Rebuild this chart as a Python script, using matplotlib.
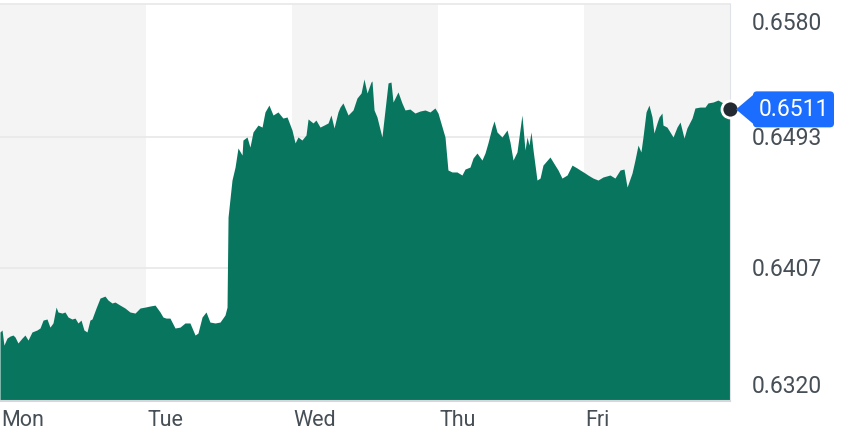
import matplotlib
matplotlib.use("Agg")
import matplotlib.pyplot as plt
from matplotlib.patches import Polygon, FancyBboxPatch

# time in trading days since Monday open, price in USD
days = [
    0.000, 0.014, 0.027, 0.048, 0.068, 0.089, 0.103, 0.123, 0.151, 0.171,
    0.192, 0.219, 0.253, 0.274, 0.295, 0.322, 0.342, 0.363, 0.384, 0.397,
    0.425, 0.445, 0.466, 0.493, 0.514, 0.534, 0.555, 0.575, 0.596, 0.616,
    0.630, 0.658, 0.685, 0.719, 0.740, 0.767, 0.788, 0.822, 0.856, 0.890,
    0.925, 0.959, 0.993, 1.027, 1.062, 1.096, 1.116, 1.137, 1.164, 1.199,
    1.233, 1.267, 1.301, 1.336, 1.356, 1.384, 1.411, 1.438, 1.473, 1.507,
    1.541, 1.555, 1.562, 1.589, 1.610, 1.630, 1.658, 1.664, 1.692, 1.712,
    1.733, 1.767, 1.795, 1.815, 1.842, 1.870, 1.904, 1.938, 1.966, 2.000,
    2.021, 2.041, 2.068, 2.096, 2.110, 2.144, 2.164, 2.192, 2.219, 2.247,
    2.267, 2.288, 2.315, 2.329, 2.349, 2.384, 2.418, 2.445, 2.473, 2.493,
    2.514, 2.541, 2.548, 2.562, 2.582, 2.616, 2.637, 2.658, 2.678, 2.692,
    2.726, 2.753, 2.774, 2.808, 2.842, 2.877, 2.911, 2.945, 2.979, 3.000,
    3.014, 3.048, 3.068, 3.096, 3.130, 3.164, 3.185, 3.219, 3.240, 3.267,
    3.301, 3.322, 3.342, 3.370, 3.384, 3.404, 3.438, 3.473, 3.493, 3.514,
    3.541, 3.575, 3.596, 3.610, 3.623, 3.637, 3.651, 3.678, 3.699, 3.719,
    3.767, 3.801, 3.822, 3.849, 3.884, 3.918, 3.952, 3.973, 4.007, 4.027,
    4.062, 4.096, 4.130, 4.178, 4.212, 4.247, 4.274, 4.295, 4.329, 4.349,
    4.370, 4.390, 4.404, 4.425, 4.445, 4.466, 4.479, 4.500, 4.514, 4.534,
    4.541, 4.568, 4.589, 4.610, 4.637, 4.658, 4.685, 4.705, 4.740, 4.760,
    4.795, 4.829, 4.849, 4.884, 4.918, 4.952, 5.000,
]
prices = [
    0.63652, 0.63665, 0.63566, 0.63612, 0.63625, 0.63632, 0.63619, 0.63580, 0.63612, 0.63632,
    0.63599, 0.63652, 0.63665, 0.63678, 0.63730, 0.63737, 0.63684, 0.63711, 0.63815, 0.63783,
    0.63776, 0.63783, 0.63750, 0.63737, 0.63743, 0.63711, 0.63730, 0.63665, 0.63652, 0.63730,
    0.63737, 0.63809, 0.63874, 0.63887, 0.63861, 0.63842, 0.63848, 0.63828, 0.63809, 0.63783,
    0.63776, 0.63809, 0.63815, 0.63822, 0.63828, 0.63783, 0.63750, 0.63743, 0.63743, 0.63678,
    0.63684, 0.63711, 0.63711, 0.63632, 0.63645, 0.63750, 0.63783, 0.63717, 0.63711, 0.63717,
    0.63763, 0.63815, 0.64405, 0.64647, 0.64732, 0.64857, 0.64811, 0.64909, 0.64929, 0.64863,
    0.64962, 0.65007, 0.64994, 0.65093, 0.65138, 0.65073, 0.65093, 0.65053, 0.65060, 0.64975,
    0.64890, 0.64929, 0.64909, 0.64942, 0.65047, 0.65021, 0.65040, 0.64994, 0.65007, 0.65021,
    0.65073, 0.64988, 0.65093, 0.65125, 0.65152, 0.65073, 0.65106, 0.65184, 0.65217, 0.65309,
    0.65217, 0.65289, 0.65296, 0.65106, 0.65060, 0.64929, 0.65106, 0.65283, 0.65289, 0.65158,
    0.65224, 0.65152, 0.65106, 0.65112, 0.65086, 0.65099, 0.65106, 0.65093, 0.65119, 0.65086,
    0.65040, 0.64929, 0.64713, 0.64700, 0.64700, 0.64680, 0.64719, 0.64732, 0.64791, 0.64824,
    0.64778, 0.64824, 0.64890, 0.64994, 0.65034, 0.64962, 0.64929, 0.64975, 0.64896, 0.64778,
    0.64831, 0.65073, 0.64844, 0.64929, 0.64876, 0.64962, 0.64844, 0.64647, 0.64660, 0.64745,
    0.64798, 0.64745, 0.64713, 0.64660, 0.64680, 0.64745, 0.64726, 0.64713, 0.64693, 0.64680,
    0.64660, 0.64647, 0.64667, 0.64680, 0.64660, 0.64713, 0.64719, 0.64601, 0.64693, 0.64778,
    0.64876, 0.64831, 0.64929, 0.65093, 0.65138, 0.65060, 0.64955, 0.65021, 0.65060, 0.65086,
    0.65007, 0.64994, 0.64962, 0.64929, 0.64994, 0.65027, 0.64922, 0.64988, 0.65053, 0.65119,
    0.65125, 0.65125, 0.65152, 0.65158, 0.65171, 0.65152, 0.6511,
]
day_labels = ["Mon", "Tue", "Wed", "Thu", "Fri"]
y_ticks = [0.6320, 0.6407, 0.6493, 0.6580]
last_price = 0.6511

GREEN = "#08765f"
TEXT = "#464e56"
BAND = "#f4f4f4"
GRID = "#e8e8e8"

plt.rcParams["font.family"] = ["Roboto", "DejaVu Sans"]

fig = plt.figure(figsize=(8.66, 4.44), dpi=100)
ax = fig.add_axes([0.0, 1 - 401 / 444, 730 / 866, 397 / 444])
ax.set_xlim(0, 5)
ax.set_ylim(y_ticks[0], y_ticks[-1])

# alternating day bands
for i in range(0, 5, 2):
    ax.axvspan(i, i + 1, color=BAND, lw=0, zorder=0)

for yv in y_ticks[1:]:
    ax.axhline(yv, color=GRID, lw=1.2, zorder=1, clip_on=False)

ax.fill_between(days, prices, y_ticks[0], color=GREEN, lw=0, zorder=2)

for s in ["top", "left"]:
    ax.spines[s].set_visible(False)
ax.spines["right"].set_color("#dfe2e6")
ax.spines["bottom"].set_color("#d4d7db")
ax.spines["bottom"].set_linewidth(1.5)
ax.tick_params(length=0)
ax.set_xticks([])
ax.set_yticks([])

# day labels
for i, lab in enumerate(day_labels):
    ax.text(i + 0.01, -0.048, lab, transform=ax.get_xaxis_transform(),
            ha="left", va="center", fontsize=15.5, color=TEXT)

# price axis labels
ytr = ax.get_yaxis_transform()
for yv in y_ticks:
    if yv == y_ticks[-1]:
        va, dy = "top", -0.0005
    elif yv == y_ticks[0]:
        va, dy = "bottom", 0.0002
    else:
        va, dy = "center", -0.0001
    ax.text(1.03, yv + dy, f"{yv:.4f}", transform=ytr, ha="left", va=va,
            fontsize=16.5, color=TEXT)

# current price marker and tag
ax.scatter([days[-1]], [last_price], s=150, color="#232a31", edgecolor="white",
           linewidth=2, zorder=5, clip_on=False)
px, py = ax.transData.transform((days[-1], last_price))
tag_left, tag_right, half_h = px + 23, px + 104, 18
blue = "#1a6dff"
fig.patches.append(FancyBboxPatch((tag_left, py - half_h), tag_right - tag_left, 2 * half_h,
                                  boxstyle="round,pad=0,rounding_size=4",
                                  transform=None, color=blue, lw=0))
fig.patches.append(Polygon([(px + 6, py), (tag_left + 2, py + half_h - 2),
                            (tag_left + 2, py - half_h + 2)],
                           closed=True, transform=None, color=blue, lw=0))
fig.text((tag_left + tag_right) / 2 / 866, py / 444, f"{last_price:.4f}",
         ha="center", va="center", fontsize=16.5, color="white")

fig.savefig("out.png", dpi=100)
